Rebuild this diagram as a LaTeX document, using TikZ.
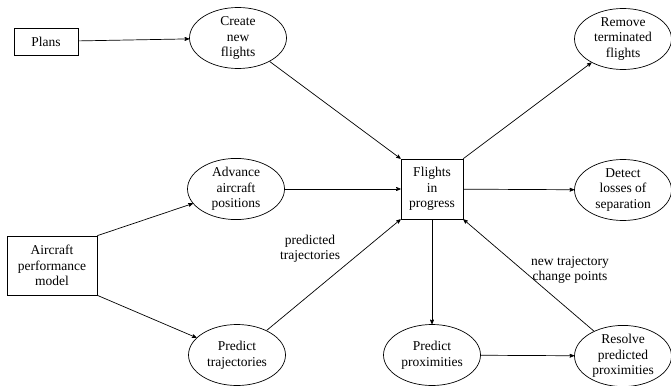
\documentclass[tikz,border=0pt]{standalone}
\usepackage{fontspec}
\setmainfont{Liberation Serif}
\newfontfamily\diagfont{Liberation Serif}
\usetikzlibrary{positioning}
\usetikzlibrary{arrows}
\usetikzlibrary{shapes.geometric}
\tikzset{>=stealth'}
\tikzset{txt/.style={align=center,font=\diagfont\fontsize{13.5}{15.5}\selectfont}}
\tikzset{proc/.style={txt,draw,ellipse,minimum width=97pt,minimum height=61pt,inner sep=0pt}}
\tikzset{store/.style={txt,draw,rectangle,inner sep=0pt}}
\tikzset{flow/.style={->,line width=0.7pt}}

\begin{document}
\begin{tikzpicture}[x=1pt,y=-1pt,line width=0.7pt]
\useasboundingbox (0,0) rectangle (671,385);

\node[store,minimum width=64pt,minimum height=27pt] (plans) at (46,41.5) {Plans};
\node[store,minimum width=90pt,minimum height=59pt] (perf) at (52,265.5) {Aircraft\\performance\\model};
\node[store,minimum width=62pt,minimum height=60pt] (fip) at (432,189) {Flights\\in\\progress};

\node[proc] (create) at (238,38) {Create\\new\\flights};
\node[proc] (advance) at (236,189) {Advance\\aircraft\\positions};
\node[proc] (predtraj) at (237,355) {Predict\\trajectories};
\node[proc] (remove) at (623,39) {Remove\\terminated\\flights};
\node[proc] (detect) at (623,190) {Detect\\losses of\\separation};
\node[proc] (predprox) at (432,355) {Predict\\proximities};
\node[proc] (resolve) at (623,356) {Resolve\\predicted\\proximities};

\node[txt] (ptlbl) at (310,249) {predicted\\trajectories};
\node[txt] (nclbl) at (570,270) {new trajectory\\change points};

\draw[flow] (plans) -- (create);
\draw[flow] (create) -- (fip.north west);
\draw[flow] (advance) -- (fip);
\draw[flow] (predtraj) -- (fip.south west);
\draw[flow] (perf.north east) -- (advance);
\draw[flow] (perf.south east) -- (predtraj);
\draw[flow] (fip.north east) -- (remove);
\draw[flow] (fip) -- (detect);
\draw[flow] (fip) -- (predprox);
\draw[flow] (predprox) -- (resolve);
\draw[flow] (resolve) -- (fip.south east);
\end{tikzpicture}
\end{document}
